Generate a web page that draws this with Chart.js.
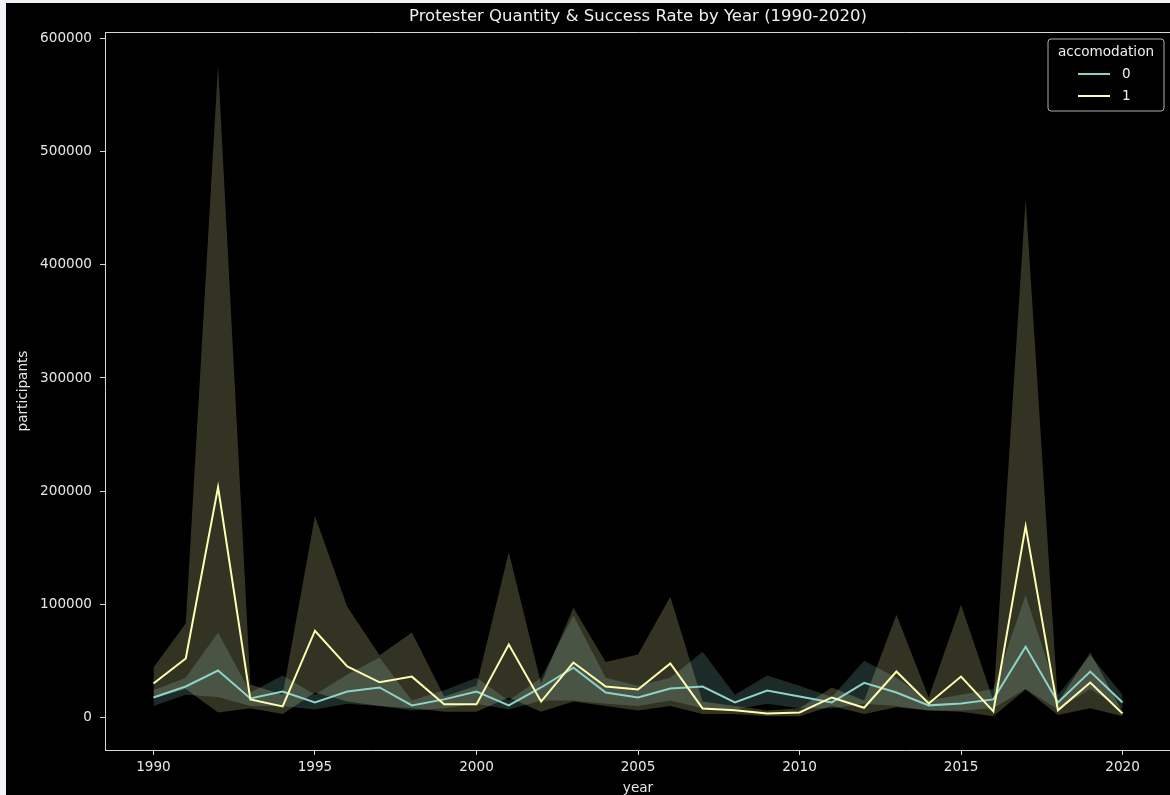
<!DOCTYPE html>
<html>
<head>
<meta charset="utf-8">
<script src="https://cdn.jsdelivr.net/npm/chart.js@4.4.1/dist/chart.umd.min.js"></script>
<style>
  html, body { margin: 0; width: 1170px; height: 795px; overflow: hidden; background: #000; }
  #edgeL { position: absolute; left: 0; top: 0; width: 6px; height: 795px; background: #f2f3f7; }
  #edgeT { position: absolute; left: 0; top: 0; width: 1170px; height: 3px; background: #f2f3f7; }
  #wrap { position: absolute; left: 6px; top: 3px; width: 1175px; height: 792px; background: #000; }
</style>
</head>
<body>
<div id="edgeL"></div><div id="edgeT"></div>
<div id="wrap"><canvas id="chart"></canvas></div>
<script>
/* ---- data --------------------------------------------------------------- */
const years   = [1990, 1991, 1992, 1993, 1994, 1995, 1996, 1997, 1998, 1999,
                 2000, 2001, 2002, 2003, 2004, 2005, 2006, 2007, 2008, 2009,
                 2010, 2011, 2012, 2013, 2014, 2015, 2016, 2017, 2018, 2019, 2020];

// accomodation = 0
const meanNo  = [17600, 27300, 41400, 16700, 22900, 13200, 22900, 26400, 10600, 15900,
                 22900, 10600, 26400, 44000, 22000, 17600, 25500, 27300, 13200, 23800,
                 18500, 13200, 30500, 22000, 10600, 12300, 15900, 62500, 13200, 40500, 13200];
const hiNo    = [24000, 35000, 75000, 22000, 37000, 20000, 38000, 53000, 15000, 24000,
                 35000, 15000, 35000, 90000, 35000, 28000, 35000, 58000, 20000, 37000,
                 28000, 18000, 50000, 35000, 15000, 20000, 25000, 108000, 20000, 55000, 20000];
const loNo    = [10000, 20000, 18000, 10000, 10000, 7000, 12000, 10000, 6000, 8000,
                 12000, 7000, 15000, 15000, 12000, 10000, 15000, 8000, 7000, 12000,
                 8000, 8000, 12000, 10000, 6000, 6000, 8000, 25000, 7000, 25000, 7000];

// accomodation = 1
const meanYes = [30000, 52000, 203500, 15900, 9700, 76600, 45000, 31000, 36000, 11500,
                 11500, 64300, 14000, 48500, 27300, 24700, 47600, 7900, 6200, 3500,
                 4400, 17600, 8500, 40500, 12300, 36100, 5300, 169000, 6200, 30800, 3500];
const hiYes   = [44000, 83000, 577000, 29000, 20000, 178000, 97800, 55000, 75000, 18500,
                 28000, 146000, 30000, 97000, 49000, 55500, 106600, 14000, 10000, 6000,
                 8000, 26400, 15000, 90700, 17600, 99600, 15000, 458000, 13200, 57300, 5000];
const loYes   = [17000, 25000, 4400, 8000, 3000, 22000, 14000, 10000, 8000, 5000,
                 5000, 17600, 5000, 14000, 10000, 6000, 10000, 3000, 3000, 1000,
                 1000, 10000, 3000, 9000, 6000, 5000, 1000, 24700, 2000, 8000, 1000];

const xTicks  = [1990, 1995, 2000, 2005, 2010, 2015, 2020];
const yTicks  = [0, 100000, 200000, 300000, 400000, 500000, 600000];

const TEAL   = '#8dd3c7';
const YELLOW = '#feffb3';
const FONT   = 'DejaVu Sans';
const pts = arr => arr.map((v, i) => ({ x: years[i], y: v }));

/* ---- title + legend drawn on the canvas ---------------------------------- */
const overlay = {
  id: 'overlay',
  afterDraw(chart) {
    const { ctx, chartArea: a } = chart;
    ctx.save();
    ctx.fillStyle = '#f0f0f0';
    ctx.font = `16.5px "${FONT}"`;
    ctx.textAlign = 'center';
    ctx.textBaseline = 'middle';
    ctx.fillText('Protester Quantity & Success Rate by Year (1990-2020)', (a.left + a.right) / 2, 14);

    // legend box
    const bx = 1042, by = 36, bw = 116, bh = 72;
    ctx.beginPath();
    ctx.roundRect(bx, by, bw, bh, 3);
    ctx.fillStyle = 'rgba(0,0,0,0.8)';
    ctx.fill();
    ctx.strokeStyle = '#b0b0b0';
    ctx.lineWidth = 1;
    ctx.stroke();

    ctx.fillStyle = '#f0f0f0';
    ctx.font = `13.6px "${FONT}"`;
    ctx.fillText('accomodation', bx + bw / 2, by + 13);

    [[TEAL, '0', by + 35], [YELLOW, '1', by + 57]].forEach(([c, t, y]) => {
      ctx.beginPath();
      ctx.moveTo(bx + 30, y); ctx.lineTo(bx + 62, y);
      ctx.strokeStyle = c; ctx.lineWidth = 2; ctx.stroke();
      ctx.textAlign = 'left';
      ctx.fillStyle = '#f0f0f0';
      ctx.fillText(t, bx + 74, y);
    });
    ctx.restore();
  }
};

const tickColor = '#e6e6e6';
const spine = '#d8d8d8';

new Chart(document.getElementById('chart'), {
  type: 'line',
  data: {
    datasets: [
      { label: '1', data: pts(meanYes), borderColor: YELLOW, borderWidth: 2, pointRadius: 0, fill: false },
      { label: '0', data: pts(meanNo),  borderColor: TEAL,   borderWidth: 2, pointRadius: 0, fill: false },
      { label: 'hi1', data: pts(hiYes), borderColor: 'transparent', borderWidth: 0, pointRadius: 0,
        fill: '+1', backgroundColor: 'rgba(254,255,179,0.2)' },
      { label: 'lo1', data: pts(loYes), borderColor: 'transparent', borderWidth: 0, pointRadius: 0, fill: false },
      { label: 'hi0', data: pts(hiNo),  borderColor: 'transparent', borderWidth: 0, pointRadius: 0,
        fill: '+1', backgroundColor: 'rgba(141,211,199,0.2)' },
      { label: 'lo0', data: pts(loNo),  borderColor: 'transparent', borderWidth: 0, pointRadius: 0, fill: false }
    ]
  },
  options: {
    responsive: true,
    maintainAspectRatio: false,
    animation: false,
    layout: { padding: { top: 29, left: 0, right: 10, bottom: 0 } },
    plugins: { legend: { display: false }, tooltip: { enabled: false } },
    scales: {
      x: {
        type: 'linear', min: 1988.5, max: 2021.5,
        afterBuildTicks: s => { s.ticks = xTicks.map(v => ({ value: v })); },
        afterFit: s => { s.height = 45; },
        grid: { drawOnChartArea: false, color: spine, tickLength: 5 },
        border: { color: spine, width: 1 },
        ticks: { color: tickColor, font: { family: FONT, size: 13.6 }, padding: 4, maxRotation: 0,
                 callback: v => String(v) },
        title: { display: true, text: 'year', color: tickColor,
                 font: { family: FONT, size: 13.6, lineHeight: 1.0 }, padding: { top: 0, bottom: 0 } }
      },
      xTop: {
        type: 'linear', position: 'top', min: 1988.5, max: 2021.5,
        afterFit: s => { s.height = 0; },
        grid: { display: false },
        border: { color: spine, width: 1 },
        ticks: { display: false }
      },
      y: {
        min: -28850, max: 605850,
        afterBuildTicks: s => { s.ticks = yTicks.map(v => ({ value: v })); },
        afterFit: s => { s.width = 99; },
        grid: { drawOnChartArea: false, color: spine, tickLength: 5 },
        border: { color: spine, width: 1 },
        ticks: { color: tickColor, font: { family: FONT, size: 13.6 }, padding: 8,
                 callback: v => String(v) },
        title: { display: true, text: 'participants', color: tickColor,
                 font: { family: FONT, size: 13.6, lineHeight: 1.2 }, padding: { top: 9, bottom: 0 } }
      }
    }
  },
  plugins: [overlay]
});
</script>
</body>
</html>
